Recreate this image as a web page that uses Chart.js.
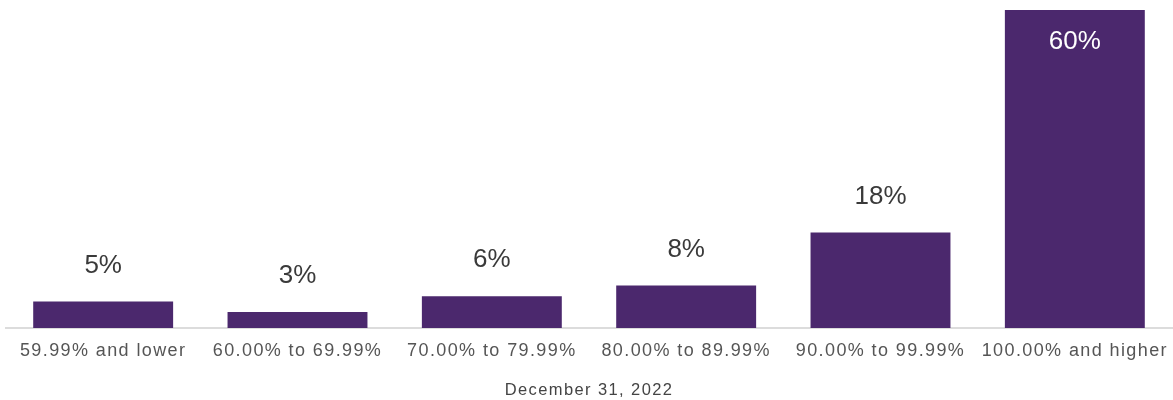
<!DOCTYPE html>
<html>
<head>
<meta charset="utf-8">
<script src="https://cdn.jsdelivr.net/npm/chart.js@4/dist/chart.umd.min.js"></script>
<style>
    html, body { margin: 0; padding: 0; background: #fff; }
    #wrap { width: 1173px; height: 400px; }
</style>
</head>
<body>
<div id="wrap"><canvas id="ratioChart"></canvas></div>
<script>
// Distribution buckets and their share of the total
const categories = [
    '59.99% and lower', '60.00% to 69.99%', '70.00% to 79.99%',
    '80.00% to 89.99%', '90.00% to 99.99%', '100.00% and higher'
];
const shares = [5, 3, 6, 8, 18, 60];
const axisTitle = 'December 31, 2022';

const barColor = '#4b286d';
const fontFamily = '"Liberation Sans", Arial, sans-serif';

// Axis text is set a little looser than the default tracking
const axisTracking = {
    id: 'axisTracking',
    beforeLayout(chart) { chart.ctx.letterSpacing = '1.4px'; },
    afterLayout(chart) { chart.ctx.letterSpacing = '0px'; },
    beforeDraw(chart) { chart.ctx.letterSpacing = '1.4px'; },
    beforeDatasetsDraw(chart) { chart.ctx.letterSpacing = '0px'; }
};

// Writes the value above each bar, or inside it when the bar is the tallest
const valueLabels = {
    id: 'valueLabels',
    afterDatasetsDraw(chart) {
        const ctx = chart.ctx;
        const meta = chart.getDatasetMeta(0);
        const data = chart.data.datasets[0].data;
        const maxVal = Math.max(...data);
        ctx.save();
        ctx.letterSpacing = '0px';
        ctx.font = '26px ' + fontFamily;
        ctx.textAlign = 'center';
        ctx.textBaseline = 'middle';
        meta.data.forEach((bar, i) => {
            const text = data[i] + '%';
            if (data[i] === maxVal) {
                ctx.fillStyle = '#ffffff';
                ctx.fillText(text, bar.x, bar.y + 32);
            } else {
                ctx.fillStyle = '#3a3a3a';
                ctx.fillText(text, bar.x, bar.y - 36);
            }
        });
        ctx.restore();
    }
};

const canvas = document.getElementById('ratioChart');
new Chart(canvas.getContext('2d'), {
    type: 'bar',
    data: {
        labels: categories,
        datasets: [{
            data: shares,
            backgroundColor: barColor,
            borderWidth: 0,
            barPercentage: 0.8,
            categoryPercentage: 0.9
        }]
    },
    options: {
        responsive: true,
        maintainAspectRatio: false,
        animation: false,
        layout: {
            padding: { top: 10, left: 6, right: 1, bottom: 0 }
        },
        plugins: {
            legend: { display: false },
            tooltip: { enabled: false }
        },
        scales: {
            x: {
                grid: { display: false },
                border: { display: true, color: '#dcdcdc', width: 2 },
                ticks: {
                    color: '#555555',
                    font: { family: fontFamily, size: 18 },
                    padding: 4,
                    maxRotation: 0,
                    autoSkip: false
                },
                title: {
                    display: true,
                    text: axisTitle,
                    color: '#444444',
                    font: { family: fontFamily, size: 16.5 },
                    padding: { top: 19, bottom: 0 }
                },
                // fixed band under the bars for the labels and the date
                afterFit(scale) {
                    scale.height = 72;
                    scale.paddingLeft = 0;
                    scale.paddingRight = 0;
                }
            },
            y: {
                display: false,
                beginAtZero: true,
                max: 60
            }
        }
    },
    plugins: [axisTracking, valueLabels]
});
</script>
</body>
</html>
